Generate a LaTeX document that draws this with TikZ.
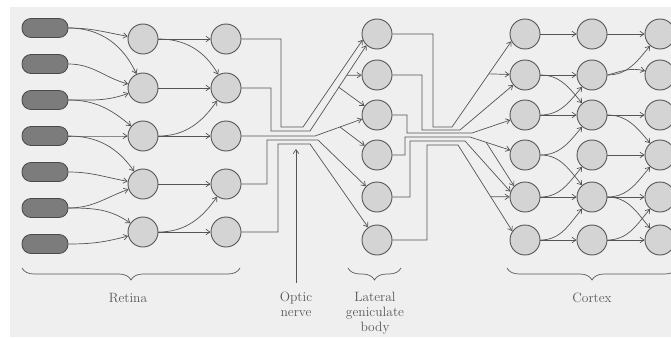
\documentclass[tikz,border=0pt]{standalone}
\usetikzlibrary{arrows.meta,decorations.pathreplacing}
\definecolor{wire}{HTML}{555555}
\definecolor{cellfill}{HTML}{D4D4D4}
\definecolor{rodfill}{HTML}{7C7C7C}
\definecolor{rodline}{HTML}{4A4A4A}
\definecolor{paper}{HTML}{EFEFEF}
\definecolor{ink}{HTML}{585858}

\tikzset{
  cell/.style={circle, draw=wire, fill=cellfill, line width=0.9pt,
    minimum size=30pt, inner sep=0pt},
  rod/.style={rectangle, rounded corners=9pt, draw=rodline, fill=rodfill,
    line width=0.8pt, minimum width=46pt, minimum height=19pt, inner sep=0pt},
  fiber/.style={draw=wire, line width=0.7pt},
  syn/.style={fiber, -{Straight Barb[length=4pt,width=5.5pt]}},
  caption/.style={text=ink, font=\fontsize{13.5}{15}\selectfont, align=center, inner sep=0pt},
  bracket/.style={draw=ink, line width=0.7pt, decorate,
    decoration={brace, amplitude=12pt, mirror}}
}

\begin{document}
\begin{tikzpicture}[x=1pt,y=1pt]
\useasboundingbox (0,0) rectangle (671,-337);
\clip (0,0) rectangle (671,-337);
\fill[paper] (10,-7) rectangle (671,-337);

% ---------- retina: receptors, bipolar and ganglion layers ----------
\foreach \i/\y in {1/28,2/64,3/100,4/136,5/172,6/208,7/244}
  \node[rod] (r\i) at (45,-\y) {};
\foreach \i/\y in {1/39,2/88,3/136,4/184,5/232} {
  \node[cell] (a\i) at (143,-\y) {};
  \node[cell] (b\i) at (226,-\y) {};
}

% ---------- lateral geniculate body and cortex ----------
\foreach \i/\y in {1/34,2/75,3/115,4/155,5/197,6/240} {
  \node[cell] (g\i) at (377,-\y) {};
  \node[cell] (c1\i) at (525,-\y) {};
  \node[cell] (c2\i) at (592,-\y) {};
  \node[cell] (c3\i) at (660,-\y) {};
}

% receptors -> first layer
\draw[syn] (r1.east) to[out=0,in=170] (a1);
\draw[syn] (r1.east) to[out=0,in=115] (a2);
\draw[syn] (r2.east) to[out=0,in=165] (a2);
\draw[syn] (r3.east) to[out=0,in=200] (a2);
\draw[syn] (r3.east) to[out=0,in=140] (a3);
\draw[syn] (r4.east) to[out=0,in=180] (a3);
\draw[syn] (r4.east) to[out=0,in=125] (a4);
\draw[syn] (r5.east) to[out=0,in=170] (a4);
\draw[syn] (r6.east) to[out=0,in=200] (a4);
\draw[syn] (r6.east) to[out=0,in=145] (a5);
\draw[syn] (r7.east) to[out=0,in=195] (a5);

% first layer -> second layer
\draw[syn] (a1) -- (b1);
\draw[syn] (a1.east) to[out=0,in=120] (b2);
\draw[syn] (a2) -- (b2);
\draw[syn] (a3.east) to[out=0,in=235] (b2);
\draw[syn] (a3) -- (b3);
\draw[syn] (a4) -- (b4);
\draw[syn] (a5.east) to[out=0,in=235] (b4);
\draw[syn] (a5) -- (b5);

% optic nerve fibres
\draw[syn] (b1.east) -| (281,-127) -- (303,-127) -- (g1.202);
\draw[syn] (b2.east) -| (271,-131) -- (310,-131)
  -- coordinate[pos=0.51] (f2b) coordinate[pos=0.65] (f2a) (g1.227);
\draw[syn] (f2a) -- (g2);
\draw[syn] (f2b) -- (g3);
\draw[syn] (b3.east) -- (315,-136) -- coordinate[pos=0.53] (f3a) (g3.195);
\draw[syn] (f3a) -- (g4);
\draw[syn] (b4.east) -| (267,-140) -- (318,-140) -- (g5);
\draw[syn] (b5.east) -| (278,-144) -- (310,-144) -- (g6);

% geniculate -> cortex radiation
\draw[syn] (g1.east) -| (433,-127) -- (452,-127)
  -- coordinate[pos=0.62] (h1a) (c11.208);
\draw[syn] (h1a) -- (c12);
\draw[syn] (g2.east) -| (422,-130) -- (460,-130) -- (c12);
\draw[syn] (g3.east) -| (407,-133) -- (472,-133) -- (c13);
\draw[syn] (g4.east) -| (405,-137) -- (470,-137)
  -- coordinate[pos=0.4] (h4a) (c14);
\draw[syn] (h4a) -- (c15.135);
\draw[syn] (g5.east) -| (410,-141) -- (465,-141) -- (c15.160);
\draw[syn] (g6.east) -| (427,-145) -- (458,-145)
  -- coordinate[pos=0.6] (h6a) (c16.145);
\draw[syn] (h6a) -- (c15);

% cortex, first -> second column
\draw[syn] (c11) -- (c21);
\draw[syn] (c12) -- (c22);
\draw[syn] (c12.east) to[out=0,in=130] (c23);
\draw[syn] (c13.east) to[out=0,in=230] (c22);
\draw[syn] (c13) -- (c23);
\draw[syn] (c14.east) to[out=0,in=230] (c23);
\draw[syn] (c14.east) to[out=0,in=130] (c25);
\draw[syn] (c15.east) to[out=0,in=230] (c24);
\draw[syn] (c15) -- (c25);
\draw[syn] (c16.east) to[out=0,in=230] (c25);
\draw[syn] (c16) -- (c26);

% cortex, second -> third column
\draw[syn] (c21) -- (c31);
\draw[syn] (c22.east) to[out=0,in=230] (c31);
\draw[syn] (c22.east) to[out=15,in=165] (c32);
\draw[syn] (c23) -- (c33);
\draw[syn] (c23.east) to[out=0,in=130] (c34);
\draw[syn] (c24) -- (c34);
\draw[syn] (c25.east) to[out=0,in=230] (c34);
\draw[syn] (c25) -- (c35);
\draw[syn] (c25.east) to[out=0,in=130] (c36);
\draw[syn] (c26.east) to[out=0,in=230] (c35);
\draw[syn] (c26) -- (c36);

% braces and captions
\draw[bracket] (22,-268) -- (240,-268);
\draw[bracket] (348,-268) -- (401,-268);
\draw[bracket] (507,-268) -- (677,-268);
\node[caption, anchor=base] (retina) at (128,-302) {Retina};
\node[caption, anchor=north] (on) at (296,-292) {Optic\\nerve};
\node[caption, anchor=north] (lgn) at (375,-292) {Lateral\\geniculate\\body};
\node[caption, anchor=base] (cortex) at (592,-302) {Cortex};
\coordinate (ontip) at (296,-149);
\draw[syn] ([yshift=9pt]on.north) -- (ontip);
\end{tikzpicture}
\end{document}
